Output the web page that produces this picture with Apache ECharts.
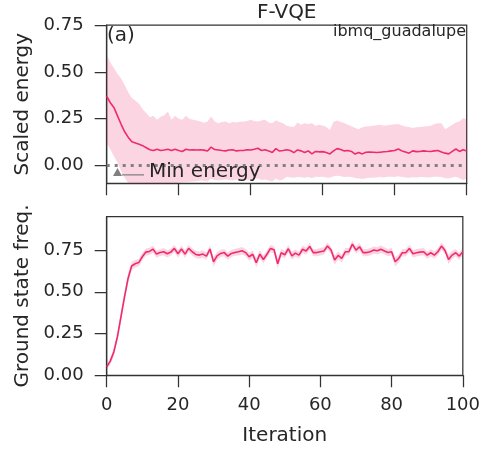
<!DOCTYPE html>
<html>
<head>
<meta charset="utf-8">
<script src="https://cdn.jsdelivr.net/npm/echarts@6/dist/echarts.min.js"></script>
<style>
html,body{margin:0;padding:0;background:#fff;}
#chart{width:483px;height:450px;}
</style>
</head>
<body>
<div id="chart"></div>
<script>
// ---------- data ----------
const iterations = Array.from({length: 101}, (_, i) => i);
const xTicks = [0, 20, 40, 60, 80, 100];
const energyTicks = [0, 0.25, 0.5, 0.75];
const freqTicks = [0, 0.25, 0.5, 0.75];
const minEnergy = 0;

const energyMean = [
  0.37,0.335,0.31,0.265,0.22,0.18,0.15,0.127,0.12,0.113,
  0.106,0.095,0.084,0.08,0.087,0.08,0.083,0.087,0.08,0.087,
  0.08,0.075,0.087,0.083,0.084,0.083,0.084,0.082,0.077,0.098,
  0.085,0.083,0.08,0.078,0.083,0.084,0.078,0.08,0.08,0.084,
  0.083,0.087,0.092,0.08,0.084,0.078,0.069,0.09,0.077,0.08,
  0.084,0.08,0.069,0.083,0.078,0.069,0.078,0.062,0.075,0.073,
  0.074,0.069,0.062,0.078,0.09,0.085,0.078,0.08,0.075,0.061,
  0.069,0.062,0.071,0.072,0.071,0.069,0.071,0.073,0.075,0.078,
  0.08,0.088,0.078,0.072,0.066,0.078,0.074,0.075,0.078,0.076,
  0.075,0.078,0.08,0.072,0.066,0.062,0.075,0.088,0.075,0.084,
  0.078
];
const energyUpper = [
  0.59,0.55,0.52,0.49,0.465,0.43,0.39,0.36,0.345,0.33,
  0.3,0.28,0.258,0.265,0.244,0.26,0.268,0.288,0.244,0.265,
  0.25,0.244,0.265,0.25,0.244,0.24,0.235,0.228,0.235,0.262,
  0.235,0.226,0.232,0.235,0.226,0.232,0.229,0.233,0.235,0.238,
  0.244,0.237,0.235,0.24,0.244,0.23,0.226,0.242,0.232,0.226,
  0.212,0.208,0.205,0.229,0.218,0.226,0.221,0.226,0.212,0.217,
  0.214,0.205,0.19,0.234,0.24,0.232,0.227,0.217,0.21,0.2,
  0.194,0.204,0.208,0.21,0.212,0.215,0.217,0.212,0.215,0.217,
  0.22,0.222,0.214,0.208,0.205,0.2,0.204,0.205,0.208,0.21,
  0.212,0.222,0.226,0.226,0.194,0.205,0.218,0.23,0.235,0.253,
  0.245
];
const energyLower = [
  0.12,0.085,0.05,0.015,-0.03,-0.065,-0.095,-0.115,-0.125,-0.13,
  -0.125,-0.12,-0.115,-0.11,-0.105,-0.1,-0.1,-0.095,-0.095,-0.094,
  -0.092,-0.09,-0.088,-0.087,-0.085,-0.084,-0.08,-0.082,-0.085,-0.07,
  -0.078,-0.08,-0.078,-0.075,-0.078,-0.08,-0.076,-0.078,-0.08,-0.075,
  -0.078,-0.072,-0.07,-0.078,-0.075,-0.08,-0.085,-0.07,-0.08,-0.075,
  -0.06,-0.064,-0.066,-0.062,-0.063,-0.065,-0.062,-0.068,-0.06,-0.062,
  -0.06,-0.064,-0.065,-0.058,-0.055,-0.058,-0.062,-0.06,-0.062,-0.067,
  -0.07,-0.072,-0.068,-0.065,-0.066,-0.064,-0.062,-0.064,-0.06,-0.06,
  -0.062,-0.058,-0.062,-0.064,-0.065,-0.063,-0.064,-0.062,-0.062,-0.064,
  -0.063,-0.06,-0.06,-0.062,-0.068,-0.07,-0.064,-0.06,-0.068,-0.077,
  -0.072
];
const freqMean = [
  0.05,0.085,0.14,0.23,0.35,0.47,0.58,0.655,0.668,0.675,
  0.71,0.738,0.742,0.756,0.726,0.735,0.74,0.728,0.738,0.76,
  0.728,0.756,0.726,0.76,0.74,0.724,0.72,0.726,0.714,0.756,
  0.68,0.715,0.73,0.735,0.714,0.73,0.736,0.74,0.746,0.735,
  0.71,0.725,0.674,0.726,0.694,0.725,0.76,0.752,0.668,0.734,
  0.722,0.758,0.716,0.732,0.72,0.755,0.745,0.772,0.735,0.735,
  0.74,0.745,0.774,0.75,0.69,0.718,0.7,0.74,0.74,0.786,
  0.75,0.77,0.735,0.735,0.74,0.75,0.746,0.755,0.745,0.735,
  0.74,0.68,0.7,0.734,0.735,0.76,0.728,0.734,0.738,0.74,
  0.72,0.734,0.72,0.74,0.774,0.748,0.694,0.72,0.734,0.714,
  0.74
];
const freqStd = [
  0.015,0.02,0.025,0.03,0.03,0.03,0.03,0.025,0.022,0.022,
  0.022,0.022,0.022,0.022,0.022,0.02,0.022,0.022,0.02,0.022,
  0.022,0.022,0.022,0.022,0.022,0.022,0.022,0.022,0.022,0.022,
  0.028,0.024,0.022,0.022,0.022,0.022,0.02,0.022,0.022,0.022,
  0.024,0.022,0.028,0.024,0.024,0.022,0.022,0.022,0.029,0.024,
  0.022,0.022,0.024,0.022,0.022,0.022,0.022,0.022,0.022,0.022,
  0.022,0.022,0.022,0.022,0.028,0.024,0.024,0.022,0.022,0.022,
  0.022,0.022,0.022,0.022,0.022,0.022,0.022,0.022,0.022,0.022,
  0.022,0.028,0.024,0.022,0.022,0.022,0.022,0.022,0.022,0.022,
  0.022,0.022,0.022,0.022,0.022,0.022,0.028,0.024,0.022,0.022,
  0.022
];

// ---------- styles ----------
const FONT = 'DejaVu Sans';
const TXT = '#262626';
const AX = '#333333';
const LINE = '#ee2b6c';
const BAND = 'rgba(238,43,108,0.2)';
const GRAY = '#808080';

const chart = echarts.init(document.getElementById('chart'), null, {renderer: 'canvas'});

function xAxisCfg(gridIndex, showLabels) {
  return {
    type: 'value', gridIndex, min: 0, max: 100, interval: 20,
    axisLine: {show: true, onZero: false, lineStyle: {color: AX, width: 1.25}},
    axisTick: {show: true, length: 12, inside: false, lineStyle: {color: AX, width: 1.25}},
    axisLabel: {show: showLabels, margin: 21, fontSize: 18, color: TXT, fontFamily: FONT,
                customValues: xTicks, alignMinLabel: 'center', alignMaxLabel: 'center'},
    splitLine: {show: false},
    name: showLabels ? 'Iteration' : '',
    nameLocation: 'middle', nameGap: 50,
    nameTextStyle: {fontSize: 20, color: TXT, fontFamily: FONT}
  };
}
function yAxisCfg(gridIndex, min, max, ticks, name) {
  return {
    type: 'value', gridIndex, min, max,
    axisLine: {show: true, onZero: false, lineStyle: {color: AX, width: 1.25}},
    axisTick: {show: true, length: 12, inside: false, lineStyle: {color: AX, width: 1.25},
               customValues: ticks},
    axisLabel: {show: true, margin: 23, fontSize: 18, color: TXT, fontFamily: FONT,
                customValues: ticks, formatter: v => v.toFixed(2)},
    splitLine: {show: false},
    name, nameLocation: 'middle', nameGap: 72, nameRotate: 90,
    nameTextStyle: {fontSize: 20, color: TXT, fontFamily: FONT}
  };
}

const pts = arr => iterations.map((x, i) => [x, arr[i]]);

// band polygon drawn through the axis scales (api.coord)
function bandSeries(axisIndex, lowArr, highArr) {
  return {
    type: 'custom', xAxisIndex: axisIndex, yAxisIndex: axisIndex, silent: true,
    data: iterations.map((x, i) => [x, lowArr[i], highArr[i]]),
    encode: {x: 0, y: [1, 2]},
    renderItem: (params, api) => {
      if (params.dataIndex !== 0) return null;
      const top = iterations.map((x, i) => api.coord([x, highArr[i]]));
      const bottom = iterations.map((x, i) => api.coord([x, lowArr[i]])).reverse();
      const cs = params.coordSys;
      return {
        type: 'polygon',
        shape: {points: top.concat(bottom)},
        style: {fill: BAND, stroke: null},
        clipPath: {type: 'rect', shape: {x: cs.x, y: cs.y, width: cs.width, height: cs.height}}
      };
    },
    z: 1
  };
}

const freqLow = iterations.map((x, i) => freqMean[i] - freqStd[i]);
const freqHigh = iterations.map((x, i) => freqMean[i] + freqStd[i]);

const option = {
  animation: false,
  backgroundColor: '#ffffff',
  title: [
    {text: 'F-VQE', left: 286.7, top: 3, textAlign: 'center', padding: 0,
     textStyle: {fontSize: 20, fontWeight: 'normal', color: TXT, fontFamily: FONT}},
    {text: 'ibmq_guadalupe', right: 17, top: 24, padding: 0,
     textStyle: {fontSize: 16, fontWeight: 'normal', color: TXT, fontFamily: FONT}},
    {text: '(a)', left: 107, top: 26, padding: 0,
     textStyle: {fontSize: 20, fontWeight: 'normal', color: TXT, fontFamily: FONT}}
  ],
  legend: {
    data: [{name: 'Min energy', icon: 'path://M0,8L4.5,0L9,8Z M9,6.2L31,6.2L31,7.6L9,7.6Z'}],
    left: 113, top: 162, padding: 0, itemWidth: 31, itemHeight: 8,
    itemStyle: {color: GRAY, borderWidth: 0},
    textStyle: {fontSize: 20, color: TXT, fontFamily: FONT},
    selectedMode: false
  },
  grid: [
    {left: 106.7, right: 16.3, top: 25, height: 158.3, show: true, borderColor: AX, borderWidth: 1.25, containLabel: false},
    {left: 106.7, right: 16.3, top: 216.7, height: 158.6, show: true, borderColor: AX, borderWidth: 1.25, containLabel: false}
  ],
  xAxis: [xAxisCfg(0, false), xAxisCfg(1, true)],
  yAxis: [
    yAxisCfg(0, -0.095, 0.75, energyTicks, 'Scaled energy'),
    yAxisCfg(1, 0, 0.95, freqTicks, 'Ground state freq.')
  ],
  series: [
    bandSeries(0, energyLower, energyUpper),
    {type: 'line', name: 'Min energy', xAxisIndex: 0, yAxisIndex: 0,
     data: [[iterations[0], minEnergy], [iterations[iterations.length - 1], minEnergy]],
     symbol: 'none', color: GRAY, lineStyle: {color: GRAY, width: 3, type: [3, 5]}, silent: true, z: 2},
    {type: 'line', xAxisIndex: 0, yAxisIndex: 0, data: pts(energyMean), symbol: 'none',
     lineStyle: {color: LINE, width: 1.6}, silent: true, z: 3},
    bandSeries(1, freqLow, freqHigh),
    {type: 'line', xAxisIndex: 1, yAxisIndex: 1, data: pts(freqMean), symbol: 'none',
     lineStyle: {color: LINE, width: 1.6}, silent: true, z: 3}
  ]
};
chart.setOption(option);
</script>
</body>
</html>
